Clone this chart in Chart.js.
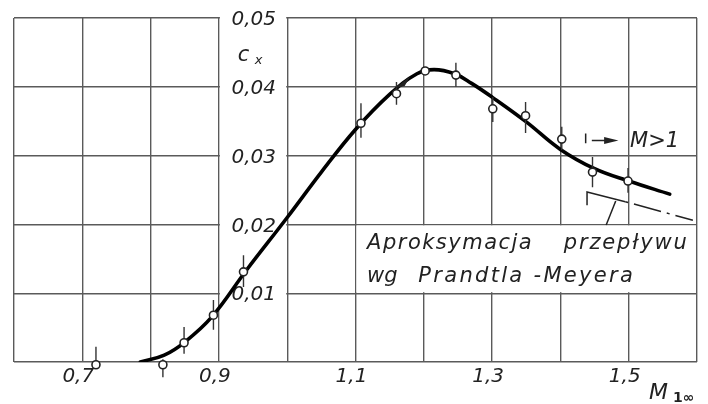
<!DOCTYPE html>
<html>
<head>
<meta charset="utf-8">
<script src="https://cdn.jsdelivr.net/npm/chart.js@4.4.1/dist/chart.umd.min.js"></script>
<style>
  html, body { margin: 0; padding: 0; background: #fff; }
  #wrap { width: 708px; height: 404px; }
</style>
</head>
<body>
<div id="wrap"><canvas id="cxChart" width="708" height="404"></canvas></div>
<script>
// grid and tick labels
const xGrid = [0.6, 0.7, 0.8, 0.9, 1.0, 1.1, 1.2, 1.3, 1.4, 1.5, 1.6];
const yGrid = [0, 0.01, 0.02, 0.03, 0.04, 0.05];
const xTickValues = [0.7, 0.9, 1.1, 1.3, 1.5];
const xTickLabels = ['0,7', '0,9', '1,1', '1,3', '1,5'];
const yTickValues = [0.01, 0.02, 0.03, 0.04, 0.05];
const yTickLabels = ['0,01', '0,02', '0,03', '0,04', '0,05'];

// faired curve c_x(M)
const curveM  = [0.785, 0.82, 0.85, 0.89, 0.94, 1.00, 1.05, 1.10, 1.15, 1.19, 1.215, 1.245, 1.27, 1.30, 1.35, 1.40, 1.45, 1.50, 1.56];
const curveCx = [0, 0.0010, 0.0029, 0.0066, 0.0133, 0.0210, 0.0276, 0.0338, 0.0389, 0.0419, 0.0425, 0.0419, 0.0405, 0.0385, 0.0349, 0.0309, 0.0281, 0.0263, 0.0244];

// measured points with scatter bars
const pointM  = [0.72, 0.818, 0.849, 0.892, 0.936, 1.108, 1.160, 1.202, 1.247, 1.301, 1.349, 1.402, 1.447, 1.499];
const pointCx = [-0.0004, -0.0004, 0.0028, 0.0068, 0.0131, 0.0347, 0.0390, 0.0423, 0.0417, 0.0368, 0.0358, 0.0324, 0.0276, 0.0263];
const barLow  = [-0.0004, -0.0022, 0.0012, 0.0047, 0.0109, 0.0326, 0.0374, 0.0423, 0.0400, 0.0349, 0.0333, 0.0308, 0.0254, 0.0246];
const barHigh = [0.0022, 0.0004, 0.0051, 0.0090, 0.0155, 0.0376, 0.0407, 0.0423, 0.0435, 0.0385, 0.0378, 0.0342, 0.0298, 0.0282];

// Prandtl-Meyer approximation
const approxM  = [1.439, 1.439, 1.495];
const approxCx = [0.0228, 0.0247, 0.0233];
const dashM  = [1.495, 1.594];
const dashCx = [0.0233, 0.0206];

const ink = '#222';
const gridInk = '#5a5a5a';
const face = '"DejaVu Sans"';
const italic = 'italic 20px ' + face;

const toXY = (xs, ys) => xs.map((x, i) => ({ x: x, y: ys[i] }));

const barData = [];
pointM.forEach((m, i) => {
    barData.push({ x: m, y: barLow[i] }, { x: m, y: barHigh[i] }, { x: m, y: null });
});

// spread text between two x pixels
function fitText(ctx, text, x0, x1, y) {
    const chars = text.split('');
    const widths = chars.map(c => ctx.measureText(c).width);
    const total = widths.reduce((a, b) => a + b, 0);
    const gap = chars.length > 1 ? Math.max(0, (x1 - x0 - total) / (chars.length - 1)) : 0;
    let x = x0;
    ctx.textAlign = 'left';
    chars.forEach((c, i) => {
        ctx.fillText(c, x, y);
        x += widths[i] + gap;
    });
}

const paperPlugin = {
    id: 'paper',
    beforeDatasetsDraw(chart) {
        const { ctx, chartArea, scales } = chart;
        const xs = scales.x, ys = scales.y;
        ctx.save();
        ctx.fillStyle = '#fff';
        // label column between 0.9 and 1.0
        const a = xs.getPixelForValue(0.9) + 1, b = xs.getPixelForValue(1.0) - 1;
        ctx.fillRect(a, chartArea.top - 3, b - a, chartArea.bottom - chartArea.top + 1);
        // text box
        const c = xs.getPixelForValue(1.1) + 1, d = xs.getPixelForValue(1.6) - 1;
        const t = ys.getPixelForValue(0.02) + 1, u = ys.getPixelForValue(0.01) - 1;
        ctx.fillRect(c, t, d - c, u - t);

        // y labels
        ctx.fillStyle = ink;
        ctx.font = italic;
        ctx.textAlign = 'center';
        ctx.textBaseline = 'middle';
        const lx = xs.getPixelForValue(0.951);
        yTickValues.forEach((v, i) => {
            ctx.fillText(yTickLabels[i], lx, ys.getPixelForValue(v) + 2);
        });
        // c_x title
        ctx.textBaseline = 'alphabetic';
        ctx.textAlign = 'left';
        ctx.font = 'italic 21px ' + face;
        ctx.fillText('c', lx - 16, ys.getPixelForValue(0.0437));
        ctx.font = 'italic 13px ' + face;
        ctx.fillText('x', lx + 1, ys.getPixelForValue(0.0433));
        ctx.restore();
    },
    afterDatasetsDraw(chart) {
        const { ctx, chartArea, scales } = chart;
        const xs = scales.x, ys = scales.y;
        const px = v => xs.getPixelForValue(v), py = v => ys.getPixelForValue(v);
        ctx.save();
        ctx.fillStyle = ink;
        ctx.strokeStyle = ink;

        // annotation text
        ctx.font = 'italic 21px ' + face;
        ctx.textBaseline = 'alphabetic';
        fitText(ctx, 'Aproksymacja', px(1.117), px(1.358), py(0.01642));
        fitText(ctx, 'przepływu', px(1.405), px(1.585), py(0.01642));
        fitText(ctx, 'wg', px(1.117), px(1.153), py(0.01163));
        fitText(ctx, 'Prandtla -Meyera', px(1.192), px(1.506), py(0.01163));

        // leader line
        ctx.lineWidth = 1.5;
        ctx.beginPath();
        ctx.moveTo(px(1.467), py(0.0199));
        ctx.lineTo(px(1.481), py(0.0234));
        ctx.stroke();

        // | -> M>1
        ctx.beginPath();
        ctx.moveTo(px(1.437), py(0.0332));
        ctx.lineTo(px(1.437), py(0.0318));
        ctx.moveTo(px(1.446), py(0.0322));
        ctx.lineTo(px(1.468), py(0.0322));
        ctx.stroke();
        ctx.beginPath();
        ctx.moveTo(px(1.485), py(0.0322));
        ctx.lineTo(px(1.464), py(0.0327));
        ctx.lineTo(px(1.464), py(0.0317));
        ctx.closePath();
        ctx.fill();
        ctx.font = 'italic 21px ' + face;
        ctx.fillText('M>1', px(1.502), py(0.0313));

        // arrowhead on the curve near the peak
        ctx.beginPath();
        ctx.moveTo(px(1.156), py(0.0397));
        ctx.lineTo(px(1.180), py(0.0415));
        ctx.lineTo(px(1.172), py(0.0401));
        ctx.closePath();
        ctx.fill();

        // axis title M_1inf
        ctx.font = 'italic 22px ' + face;
        ctx.fillText('M', chartArea.right - 48, chartArea.bottom + 37);
        ctx.font = 'bold 14px ' + face;
        ctx.fillText('1\u221e', chartArea.right - 24, chartArea.bottom + 40);
        ctx.restore();
    }
};

new Chart(document.getElementById('cxChart'), {
    type: 'scatter',
    data: {
        datasets: [
            {
                data: toXY(pointM, pointCx),
                pointRadius: 4,
                pointBorderWidth: 1.6,
                pointBackgroundColor: '#fff',
                pointBorderColor: ink,
                showLine: false,
                clip: false,
                order: 0
            },
            {
                data: barData,
                showLine: true,
                spanGaps: false,
                borderColor: '#333',
                borderWidth: 1.4,
                pointRadius: 0,
                clip: false,
                order: 1
            },
            {
                data: toXY(curveM, curveCx),
                showLine: true,
                tension: 0.4,
                borderColor: '#000',
                borderWidth: 3.6,
                borderCapStyle: 'round',
                pointRadius: 0,
                order: 2
            },
            {
                data: toXY(approxM, approxCx),
                showLine: true,
                borderColor: ink,
                borderWidth: 1.5,
                pointRadius: 0,
                order: 3
            },
            {
                data: toXY(dashM, dashCx),
                showLine: true,
                borderColor: ink,
                borderWidth: 1.5,
                borderDash: [3, 6, 28, 6],
                pointRadius: 0,
                order: 3
            }
        ]
    },
    options: {
        responsive: false,
        animation: false,
        layout: { padding: { left: 14, right: 11, top: 18, bottom: 12 } },
        plugins: { legend: { display: false }, tooltip: { enabled: false } },
        scales: {
            x: {
                type: 'linear',
                min: 0.6,
                max: 1.6,
                afterBuildTicks: s => { s.ticks = xGrid.map(v => ({ value: v })); },
                grid: { color: gridInk, lineWidth: 1.4, drawTicks: false },
                border: { display: false },
                ticks: {
                    autoSkip: false,
                    maxRotation: 0,
                    padding: 3,
                    labelOffset: -4,
                    color: ink,
                    font: { family: 'DejaVu Sans', size: 20, style: 'italic' },
                    callback: v => {
                        const i = xTickValues.findIndex(t => Math.abs(t - v) < 1e-6);
                        return i >= 0 ? xTickLabels[i] : '';
                    }
                }
            },
            y: {
                type: 'linear',
                min: 0,
                max: 0.05,
                afterBuildTicks: s => { s.ticks = yGrid.map(v => ({ value: v })); },
                afterFit: s => { s.width = 0; },
                grid: { color: gridInk, lineWidth: 1.4, drawTicks: false },
                border: { display: false },
                ticks: { display: false }
            }
        }
    },
    plugins: [paperPlugin]
});
</script>
</body>
</html>
